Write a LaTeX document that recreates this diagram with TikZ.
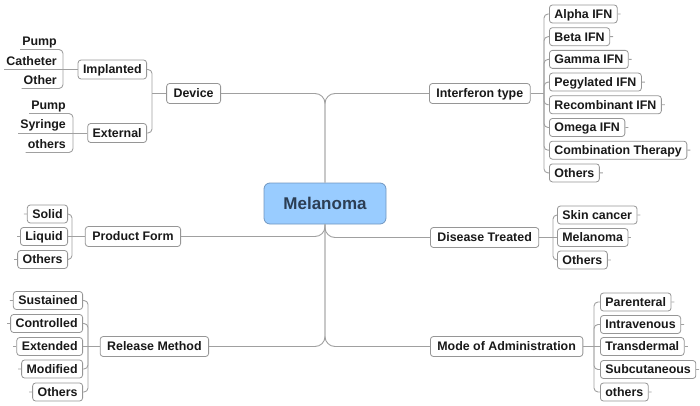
\documentclass[tikz,border=0pt]{standalone}
\usepackage{fontspec}
\setmainfont{Liberation Sans}
\definecolor{mline}{RGB}{160, 160, 160}
\definecolor{mborder}{RGB}{150, 150, 150}
\definecolor{mtext}{RGB}{25, 25, 25}
\definecolor{mroot}{RGB}{153, 204, 255}
\definecolor{mrootline}{RGB}{112, 150, 192}
\definecolor{mroottext}{RGB}{44, 62, 84}
\tikzset{link/.style = {draw = mline, line width = 0.9pt, rounded corners = 4pt}}
\tikzset{topic/.style = {draw = mborder, fill = white, line width = 0.8pt, rounded corners = 3pt,
    font = \fontsize{12.4}{14}\selectfont\bfseries, text = mtext, inner xsep = 7pt, inner ysep = 0pt,
    text height = 8.8pt, text depth = 0pt, minimum height = 20pt}}
\tikzset{leaf/.style = {topic, inner xsep = 5pt, minimum height = 18pt}}
\tikzset{sub/.style = {font = \fontsize{12.4}{14}\selectfont\bfseries, text = mtext, inner xsep = 2pt,
    inner ysep = 4pt, text height = 8.8pt, text depth = 0pt}}
\tikzset{root/.style = {draw = mrootline, fill = mroot, line width = 0.8pt, rounded corners = 6pt,
    font = \fontsize{17}{20}\selectfont\bfseries, text = mroottext, text height = 12.2pt, text depth = 0pt,
    minimum width = 122pt, minimum height = 41pt}}

\begin{document}
\begin{tikzpicture}[x = 1pt, y = -1pt]
      \useasboundingbox (0, 0) rectangle (700, 406);

      \node [root] (melanoma) at (325, 203.5) {Melanoma};

      \node [topic, anchor = east] (device) at (221, 93.5) {Device};
      \node [topic, anchor = west] (ifn) at (429, 93.5) {Interferon type};
      \node [topic, anchor = east] (form) at (181, 236.5) {Product Form};
      \node [topic, anchor = west] (disease) at (430, 237.5) {Disease Treated};
      \node [topic, anchor = east] (release) at (209, 346.5) {Release Method};
      \node [topic, anchor = west] (mode) at (430, 346.5) {Mode of Administration};

      \draw [link, rounded corners = 10pt] (melanoma.north) |- (device.east);
      \draw [link, rounded corners = 10pt] (melanoma.north) |- (ifn.west);
      \draw [link, rounded corners = 10pt] (melanoma.south) |- (form.east);
      \draw [link, rounded corners = 10pt] (melanoma.south) |- (disease.west);
      \draw [link, rounded corners = 10pt] (melanoma.south) |- (release.east);
      \draw [link, rounded corners = 10pt] (melanoma.south) |- (mode.west);

      % device
      \node [leaf, minimum height = 19pt, anchor = east] (implanted) at (147, 69.5) {Implanted};
      \node [leaf, minimum height = 19pt, anchor = east] (external) at (147, 133) {External};
      \coordinate (devbus) at (152, 93.5);
      \draw [link] (device.west) -- (devbus);
      \draw [link] (devbus) |- (implanted.east);
      \draw [link] (devbus) |- (external.east);

      \node [sub, anchor = south east] (pumpin) at (59, 49.5) {Pump};
      \node [sub, anchor = south east] (catheter) at (59, 69.5) {Catheter};
      \node [sub, anchor = south east] (otherin) at (59, 88.5) {Other};
      \coordinate (implbus) at (63, 69.5);
      \draw [link] (implanted.west) -- (implbus);
      \draw [link] (implbus) |- (pumpin.south west);
      \draw [link] (implbus) -- (catheter.south west);
      \draw [link] (implbus) |- (otherin.south west);

      \node [sub, anchor = south east] (pumpex) at (68, 113.5) {Pump};
      \node [sub, anchor = south east] (syringe) at (68, 133) {Syringe};
      \node [sub, anchor = south east] (othersex) at (68, 152.5) {others};
      \coordinate (extbus) at (73, 133);
      \draw [link] (external.west) -- (extbus);
      \draw [link] (extbus) |- (pumpex.south west);
      \draw [link] (extbus) -- (syringe.south west);
      \draw [link] (extbus) |- (othersex.south west);

      % interferon type
      \node [leaf, anchor = west] (alpha) at (549, 14) {Alpha IFN};
      \node [leaf, anchor = west] (beta) at (549, 36.7) {Beta IFN};
      \node [leaf, anchor = west] (gamma) at (549, 59.4) {Gamma IFN};
      \node [leaf, anchor = west] (pegylated) at (549, 82.1) {Pegylated IFN};
      \node [leaf, anchor = west] (recombinant) at (549, 104.8) {Recombinant IFN};
      \node [leaf, anchor = west] (omega) at (549, 127.5) {Omega IFN};
      \node [leaf, anchor = west] (combination) at (549, 150.2) {Combination Therapy};
      \node [leaf, anchor = west] (othersifn) at (549, 172.9) {Others};
      \coordinate (ifnbus) at (544, 93.5);
      \draw [link] (ifn.east) -- (ifnbus);
      \draw [link] (ifnbus) |- (alpha.west) (alpha.east) -- ++(3, 0);
      \draw [link] (ifnbus) |- (beta.west) (beta.east) -- ++(3, 0);
      \draw [link] (ifnbus) |- (gamma.west) (gamma.east) -- ++(3, 0);
      \draw [link] (ifnbus) |- (pegylated.west) (pegylated.east) -- ++(3, 0);
      \draw [link] (ifnbus) |- (recombinant.west) (recombinant.east) -- ++(3, 0);
      \draw [link] (ifnbus) |- (omega.west) (omega.east) -- ++(3, 0);
      \draw [link] (ifnbus) |- (combination.west) (combination.east) -- ++(3, 0);
      \draw [link] (ifnbus) |- (othersifn.west) (othersifn.east) -- ++(3, 0);

      % product form
      \node [leaf, anchor = east] (solid) at (68, 214) {Solid};
      \node [leaf, anchor = east] (liquid) at (68, 236.5) {Liquid};
      \node [leaf, anchor = east] (othersform) at (68, 259.5) {Others};
      \coordinate (formbus) at (72, 236.5);
      \draw [link] (form.west) -- (formbus);
      \draw [link] (formbus) |- (solid.east) (solid.west) -- ++(-3, 0);
      \draw [link] (formbus) -- (liquid.east) (liquid.west) -- ++(-3, 0);
      \draw [link] (formbus) |- (othersform.east) (othersform.west) -- ++(-3, 0);

      % disease treated
      \node [leaf, anchor = west] (skin) at (557, 215) {Skin cancer};
      \node [leaf, anchor = west] (melanomaleaf) at (557, 237.5) {Melanoma};
      \node [leaf, anchor = west] (othersdis) at (557, 260) {Others};
      \coordinate (disbus) at (553, 237.5);
      \draw [link] (disease.east) -- (disbus);
      \draw [link] (disbus) |- (skin.west) (skin.east) -- ++(3, 0);
      \draw [link] (disbus) -- (melanomaleaf.west) (melanomaleaf.east) -- ++(3, 0);
      \draw [link] (disbus) |- (othersdis.west) (othersdis.east) -- ++(3, 0);

      % release method
      \node [leaf, anchor = east] (sustained) at (83, 300.5) {Sustained};
      \node [leaf, anchor = east] (controlled) at (83, 323.5) {Controlled};
      \node [leaf, anchor = east] (extended) at (83, 346.5) {Extended};
      \node [leaf, anchor = east] (modified) at (83, 369) {Modified};
      \node [leaf, anchor = east] (othersrel) at (83, 392) {Others};
      \coordinate (relbus) at (88, 346.5);
      \draw [link] (release.west) -- (relbus);
      \draw [link] (relbus) |- (sustained.east) (sustained.west) -- ++(-3, 0);
      \draw [link] (relbus) |- (controlled.east) (controlled.west) -- ++(-3, 0);
      \draw [link] (relbus) -- (extended.east) (extended.west) -- ++(-3, 0);
      \draw [link] (relbus) |- (modified.east) (modified.west) -- ++(-3, 0);
      \draw [link] (relbus) |- (othersrel.east) (othersrel.west) -- ++(-3, 0);

      % mode of administration
      \node [leaf, anchor = west] (parenteral) at (600, 302) {Parenteral};
      \node [leaf, anchor = west] (intravenous) at (600, 324.5) {Intravenous};
      \node [leaf, anchor = west] (transdermal) at (600, 346.5) {Transdermal};
      \node [leaf, anchor = west] (subcutaneous) at (600, 369.5) {Subcutaneous};
      \node [leaf, anchor = west] (othersmode) at (600, 392) {others};
      \coordinate (modebus) at (594, 346.5);
      \draw [link] (mode.east) -- (modebus);
      \draw [link] (modebus) |- (parenteral.west) (parenteral.east) -- ++(3, 0);
      \draw [link] (modebus) |- (intravenous.west) (intravenous.east) -- ++(3, 0);
      \draw [link] (modebus) -- (transdermal.west) (transdermal.east) -- ++(3, 0);
      \draw [link] (modebus) |- (subcutaneous.west) (subcutaneous.east) -- ++(3, 0);
      \draw [link] (modebus) |- (othersmode.west) (othersmode.east) -- ++(3, 0);
    \end{tikzpicture}
\end{document}
